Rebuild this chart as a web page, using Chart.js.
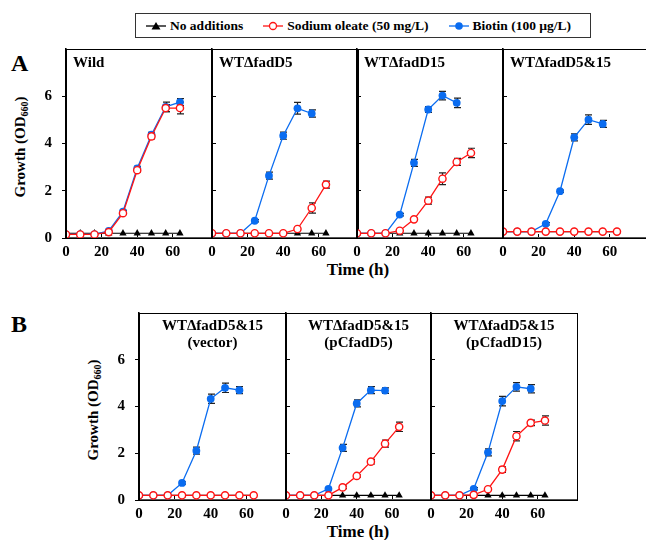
<!DOCTYPE html>
<html>
<head>
<meta charset="utf-8">
<script src="https://cdn.jsdelivr.net/npm/chart.js@4.4.1/dist/chart.umd.min.js"></script>
<style>
  html, body { margin: 0; padding: 0; background: #fff; }
  body { width: 646px; height: 540px; position: relative; overflow: hidden; font-family: 'Liberation Serif', 'Times New Roman', serif; font-weight: bold; color: #000; }
  canvas { position: absolute; }
  .lbl { position: absolute; white-space: nowrap; line-height: 17px; }
  .big { font-size: 24px; line-height: 26px; }
  .ptitle { font-size: 15px; }
  .ptitle.center { text-align: center; }
  .ytitle { font-size: 15px; transform: translate(-50%, -50%) rotate(-90deg); }
  .ytitle sub { font-size: 10px; vertical-align: -3px; }
  .xtitle { font-size: 17px; transform: translateX(-50%); }
  #legend { position: absolute; left: 135px; top: 13px; width: 456px; height: 25px; border: 1px solid #333; display: flex; align-items: center; font-size: 13.5px; box-sizing: border-box; padding-left: 10px; white-space: nowrap; overflow: hidden; }
  #legend .item { display: flex; align-items: center; margin-right: 20px; flex-shrink: 0; white-space: nowrap; }
  #legend svg { margin-right: 4px; flex-shrink: 0; }
</style>
</head>
<body>
<div id="legend"></div>
<div class="lbl big" style="left:11px; top:50px;">A</div>
<div class="lbl big" style="left:11px; top:311px;">B</div>
<div class="lbl ytitle" style="left:22px; top:147px;">Growth (OD<sub>660</sub>)</div>
<div class="lbl ytitle" style="left:95px; top:410px;">Growth (OD<sub>660</sub>)</div>
<div class="lbl xtitle" style="left:358px; top:261px;">Time (h)</div>
<div class="lbl xtitle" style="left:358px; top:523px;">Time (h)</div>

<script>
// ===================================================
// DATOS
// ===================================================

const TIME = [0, 8, 16, 24, 32, 40, 48, 56, 64];
const X_TICKS = [0, 20, 40, 60];
const Y_TICKS = [0, 2, 4, 6];
const SERIES = ['No additions', 'Sodium oleate (50 mg/L)', 'Biotin (100 µg/L)'];

// A - Wild
const wildNone      = [0.2, 0.2, 0.2, 0.2, 0.2, 0.2, 0.2, 0.2, 0.2];
const wildOleate    = [0.15, 0.15, 0.15, 0.25, 1.05, 2.87, 4.3, 5.5, 5.5];
const wildOleateErr = [0, 0, 0, 0, 0.05, 0.08, 0.1, 0.15, 0.25];
const wildBiotin    = [0.15, 0.15, 0.15, 0.3, 1.12, 2.95, 4.37, 5.55, 5.75];
const wildBiotinErr = [0, 0, 0, 0, 0.05, 0.08, 0.1, 0.2, 0.15];

// A - WTΔfadD5
const d5None      = [0.2, 0.2, 0.2, 0.2, 0.2, 0.2, 0.2, 0.2, 0.2];
const d5Oleate    = [0.2, 0.2, 0.2, 0.2, 0.2, 0.2, 0.38, 1.27, 2.26];
const d5OleateErr = [0, 0, 0, 0, 0, 0, 0.05, 0.22, 0.15];
const d5Biotin    = [0.2, 0.2, 0.2, 0.73, 2.64, 4.33, 5.49, 5.27, null];
const d5BiotinErr = [0, 0, 0, 0.05, 0.15, 0.15, 0.25, 0.15, 0];

// A - WTΔfadD15
const d15None      = [0.2, 0.2, 0.2, 0.2, 0.2, 0.2, 0.2, 0.2, 0.2];
const d15Oleate    = [0.2, 0.2, 0.2, 0.31, 0.79, 1.58, 2.51, 3.22, 3.6];
const d15OleateErr = [0, 0, 0, 0, 0.05, 0.15, 0.25, 0.15, 0.2];
const d15Biotin    = [0.2, 0.2, 0.2, 0.99, 3.18, 5.44, 6.03, 5.72, null];
const d15BiotinErr = [0, 0, 0, 0.05, 0.15, 0.12, 0.18, 0.2, 0];

// A - WTΔfadD5&15
const dbNone      = [0.27, 0.27, 0.27, 0.27, 0.27, 0.27, 0.27, 0.27, 0.27];
const dbOleate    = [0.27, 0.27, 0.27, 0.27, 0.27, 0.27, 0.27, 0.27, 0.27];
const dbOleateErr = [0, 0, 0, 0, 0, 0, 0, 0, 0];
const dbBiotin    = [0.27, 0.27, 0.27, 0.6, 1.98, 4.26, 5.01, 4.83, null];
const dbBiotinErr = [0, 0, 0, 0.05, 0.05, 0.15, 0.2, 0.15, 0];

// B - (vector)
const vecNone      = [0.2, 0.2, 0.2, 0.2, 0.2, 0.2, 0.2, 0.2, 0.2];
const vecOleate    = [0.2, 0.2, 0.2, 0.2, 0.2, 0.2, 0.2, 0.2, 0.2];
const vecOleateErr = [0, 0, 0, 0, 0, 0, 0, 0, 0];
const vecBiotin    = [0.2, 0.2, 0.2, 0.73, 2.11, 4.33, 4.8, 4.7, null];
const vecBiotinErr = [0, 0, 0, 0.05, 0.15, 0.2, 0.2, 0.15, 0];

// B - (pCfadD5)
const pc5None      = [0.2, 0.2, 0.2, 0.2, 0.2, 0.2, 0.2, 0.2, 0.2];
const pc5Oleate    = [0.2, 0.2, 0.2, 0.2, 0.54, 1.03, 1.64, 2.41, 3.13];
const pc5OleateErr = [0, 0, 0, 0, 0.05, 0.05, 0.1, 0.15, 0.2];
const pc5Biotin    = [0.2, 0.2, 0.2, 0.48, 2.23, 4.13, 4.7, 4.68, null];
const pc5BiotinErr = [0, 0, 0, 0.05, 0.15, 0.15, 0.15, 0.12, 0];

// B - (pCfadD15)
const pc15None      = [0.2, 0.2, 0.2, 0.2, 0.2, 0.2, 0.2, 0.2, 0.2];
const pc15Oleate    = [0.2, 0.2, 0.2, 0.22, 0.46, 1.3, 2.73, 3.3, 3.4];
const pc15OleateErr = [0, 0, 0, 0, 0.05, 0.12, 0.2, 0.12, 0.2];
const pc15Biotin    = [0.2, 0.2, 0.2, 0.48, 2.04, 4.23, 4.84, 4.76, null];
const pc15BiotinErr = [0, 0, 0, 0.05, 0.15, 0.2, 0.18, 0.18, 0];

// ===================================================
// PANELES (posicion en pagina)
// ===================================================

const PANELS = [
  { title: ['Wild'],                      left: 66,  top: 49,  w: 146, h: 189, first: true,  none: wildNone, oleate: wildOleate, oleateErr: wildOleateErr, biotin: wildBiotin, biotinErr: wildBiotinErr },
  { title: ['WTΔfadD5'],                  left: 212, top: 49,  w: 146, h: 189, first: false, none: d5None,   oleate: d5Oleate,   oleateErr: d5OleateErr,   biotin: d5Biotin,   biotinErr: d5BiotinErr },
  { title: ['WTΔfadD15'],                 left: 357, top: 49,  w: 146, h: 189, first: false, none: d15None,  oleate: d15Oleate,  oleateErr: d15OleateErr,  biotin: d15Biotin,  biotinErr: d15BiotinErr },
  { title: ['WTΔfadD5&15'],               left: 503, top: 49,  w: 146, h: 189, first: false, none: dbNone,   oleate: dbOleate,   oleateErr: dbOleateErr,   biotin: dbBiotin,   biotinErr: dbBiotinErr },
  { title: ['WTΔfadD5&15', '(vector)'],   left: 139, top: 313, w: 147, h: 187, first: true,  center: true, none: vecNone,  oleate: vecOleate,  oleateErr: vecOleateErr,  biotin: vecBiotin,  biotinErr: vecBiotinErr },
  { title: ['WTΔfadD5&15', '(pCfadD5)'],  left: 286, top: 313, w: 145, h: 187, first: false, center: true, none: pc5None,  oleate: pc5Oleate,  oleateErr: pc5OleateErr,  biotin: pc5Biotin,  biotinErr: pc5BiotinErr },
  { title: ['WTΔfadD5&15', '(pCfadD15)'], left: 431, top: 313, w: 146, h: 187, first: false, center: true, none: pc15None, oleate: pc15Oleate, oleateErr: pc15OleateErr, biotin: pc15Biotin, biotinErr: pc15BiotinErr }
];

const COLORS = { none: '#000000', oleate: '#ff1414', biotin: '#0a6cf0' };
const FONT = { family: "'Liberation Serif', 'Times New Roman', serif", weight: 'bold', size: 15 };

// ===================================================
// PLUGINS
// ===================================================

const errorBars = {
  id: 'errorBars',
  beforeDatasetsDraw(chart) {
    const { ctx, scales: { x, y } } = chart;
    ctx.save();
    ctx.strokeStyle = '#222';
    ctx.lineWidth = 1.2;
    chart.data.datasets.forEach(ds => {
      if (!ds.errors) return;
      ds.data.forEach((p, j) => {
        const e = ds.errors[j];
        if (p.y == null || !e) return;
        const px = Math.round(x.getPixelForValue(p.x)) + 0.5;
        const t = y.getPixelForValue(p.y + e);
        const b = y.getPixelForValue(p.y - e);
        ctx.beginPath();
        ctx.moveTo(px, t); ctx.lineTo(px, b);
        ctx.moveTo(px - 3.5, t); ctx.lineTo(px + 3.5, t);
        ctx.moveTo(px - 3.5, b); ctx.lineTo(px + 3.5, b);
        ctx.stroke();
      });
    });
    ctx.restore();
  }
};

const frameBox = {
  id: 'frameBox',
  afterDraw(chart) {
    const { ctx, chartArea: a } = chart;
    ctx.save();
    ctx.strokeStyle = '#000';
    ctx.lineWidth = 1;
    ctx.strokeRect(Math.round(a.left) + 0.5, Math.round(a.top) + 0.5, Math.round(a.width), Math.round(a.height));
    ctx.restore();
  }
};

// ===================================================
// CONSTRUCCION
// ===================================================

function puntos(arr) {
  return TIME.map((t, i) => ({ x: t, y: arr[i] }));
}

function crearLeyenda() {
  const marks = [
    '<polygon points="10,1 14.5,8.5 5.5,8.5" fill="#000"/>',
    '<circle cx="10" cy="5" r="3.5" fill="#fff" stroke="' + COLORS.oleate + '" stroke-width="1.3"/>',
    '<circle cx="10" cy="5" r="3.8" fill="' + COLORS.biotin + '"/>'
  ];
  const cols = [COLORS.none, COLORS.oleate, COLORS.biotin];
  document.getElementById('legend').innerHTML = SERIES.map((s, i) =>
    '<div class="item"><svg width="20" height="10"><line x1="0" y1="5" x2="20" y2="5" stroke="' + cols[i] + '" stroke-width="1.3"/>' + marks[i] + '</svg><span>' + s + '</span></div>'
  ).join('');
}

const M = 40; // margen del canvas alrededor del area del grafico

function crearPanel(p) {
  const c = document.createElement('canvas');
  c.width = p.w + M + 10;
  c.height = p.h + 10 + 30;
  c.style.left = (p.left - M) + 'px';
  c.style.top = (p.top - 10) + 'px';
  document.body.appendChild(c);

  const yw = p.first ? M : 0;

  new Chart(c, {
    type: 'line',
    data: {
      datasets: [
        { label: SERIES[1], data: puntos(p.oleate), errors: p.oleateErr, borderColor: COLORS.oleate, backgroundColor: '#fff', borderWidth: 1.3, pointRadius: 3.6, pointBorderWidth: 1.4, pointStyle: 'circle' },
        { label: SERIES[2], data: puntos(p.biotin), errors: p.biotinErr, borderColor: COLORS.biotin, backgroundColor: COLORS.biotin, borderWidth: 1.3, pointRadius: 3.9, pointBorderWidth: 0, pointStyle: 'circle' },
        { label: SERIES[0], data: puntos(p.none), borderColor: COLORS.none, backgroundColor: COLORS.none, borderWidth: 1.1, pointRadius: 4.2, pointBorderWidth: 0, pointStyle: 'triangle' }
      ]
    },
    options: {
      responsive: false,
      animation: false,
      devicePixelRatio: 1,
      layout: { padding: { left: M - yw, top: 10, right: 10, bottom: 30 - 24 } },
      plugins: { legend: { display: false }, tooltip: { enabled: false } },
      scales: {
        x: {
          type: 'linear', min: 0, max: 82,
          afterBuildTicks: s => { s.ticks = X_TICKS.map(v => ({ value: v })); },
          afterFit: s => { s.height = 24; s.paddingLeft = 0; s.paddingRight = 0; },
          border: { display: true, color: '#555', width: 2 },
          grid: { drawOnChartArea: false, drawTicks: true, tickLength: -4, color: '#000', tickWidth: 1 },
          ticks: { color: '#000', font: FONT, padding: 9, maxRotation: 0 }
        },
        y: {
          type: 'linear', min: 0, max: 8,
          afterBuildTicks: s => { s.ticks = Y_TICKS.map(v => ({ value: v })); },
          afterFit: s => { s.width = yw; s.paddingTop = 0; s.paddingBottom = 0; },
          border: { display: true, color: '#000', width: 1.6 },
          grid: { drawOnChartArea: false, drawTicks: true, tickLength: p.first ? 4 : -4, color: '#000', tickWidth: 1 },
          ticks: { display: p.first, color: '#000', font: FONT, padding: 10 }
        }
      }
    },
    plugins: [errorBars, frameBox]
  });

  const t = document.createElement('div');
  t.className = 'lbl ptitle' + (p.center ? ' center' : '');
  t.innerHTML = p.title.join('<br>');
  if (p.center) {
    t.style.left = p.left + 'px';
    t.style.width = p.w + 'px';
    t.style.top = (p.top + 4) + 'px';
  } else {
    t.style.left = (p.left + 7) + 'px';
    t.style.top = (p.top + 5) + 'px';
  }
  document.body.appendChild(t);
}

crearLeyenda();
PANELS.forEach(crearPanel);
</script>
</body>
</html>
